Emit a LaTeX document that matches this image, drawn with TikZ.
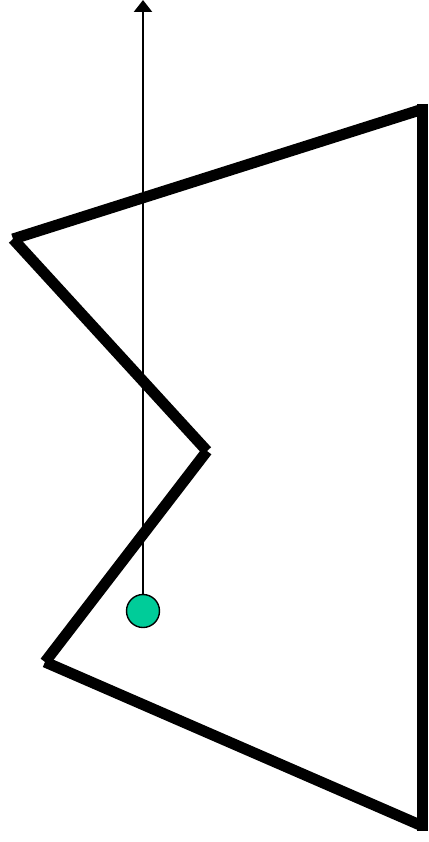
\documentclass[tikz,border=0pt]{standalone}
\usetikzlibrary{arrows.meta,calc}
\definecolor{PointClr}{RGB}{0,204,153}
\tikzset{side/.style={line width=11pt,line cap=butt,draw=black},
  ray/.style={line width=2.4pt,line cap=butt,draw=black,-{Triangle[width=18pt,length=12pt]}}}

\begin{document}
\begin{tikzpicture}[x=1pt,y=-1pt]
\useasboundingbox (0,0) rectangle (428,842);

\coordinate (A) at (420,110);
\coordinate (B) at (13,239);
\coordinate (C) at (207,451);
\coordinate (D) at (45,662);
\coordinate (E) at (420,825);
\coordinate (A1) at (422.5,104);
\coordinate (E1) at (422.5,831);
\coordinate (P) at (143,611);
\coordinate (Q) at (143,0);

% polygon sides, drawn one by one
\draw[side] (B) -- (A);
\draw[side] (B) -- (C);
\draw[side] (C) -- (D);
\draw[side] (D) -- (E);
\draw[side] (A1) -- (E1);

% ray from the point
\draw[ray] (P) -- (Q);
\draw[fill=PointClr,line width=1.4pt] (P) circle (16.5pt);

\end{tikzpicture}
\end{document}
